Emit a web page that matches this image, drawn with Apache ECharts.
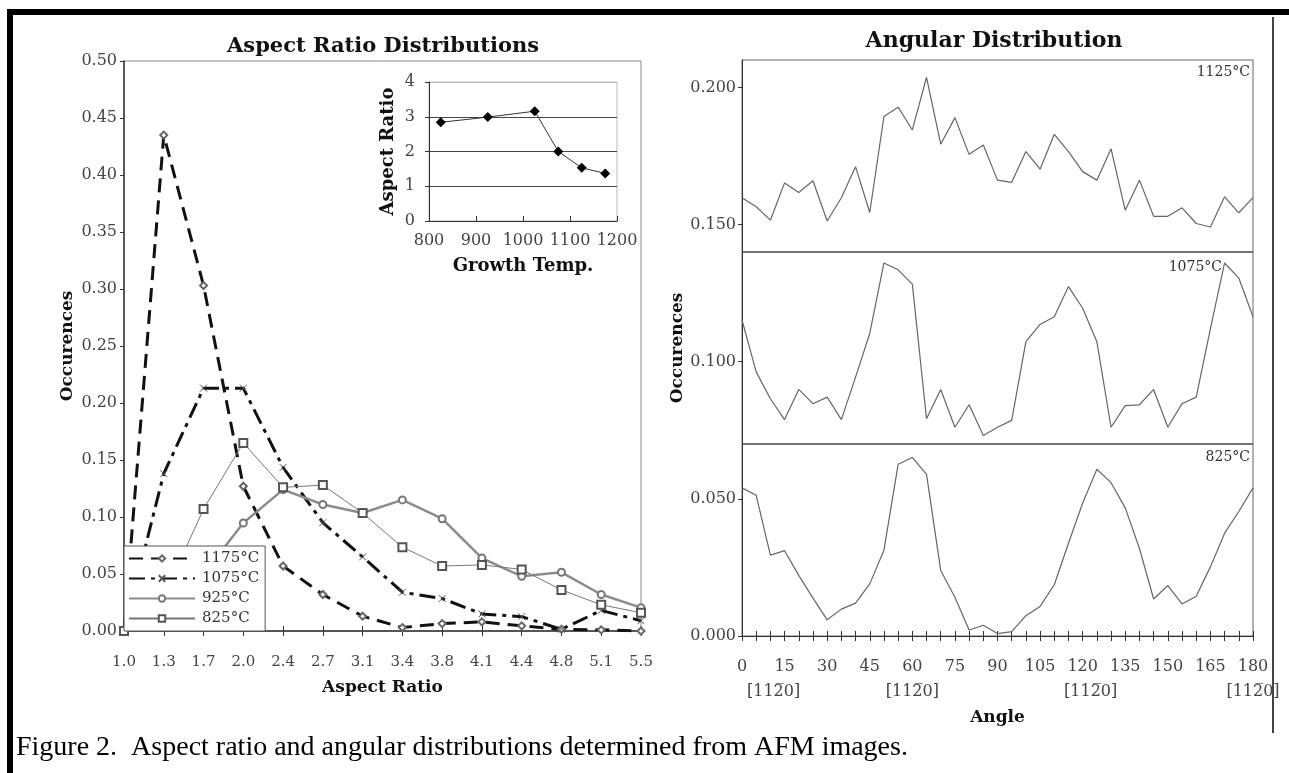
<!DOCTYPE html>
<html>
<head>
<meta charset="utf-8">
<title>Figure 2 - Aspect ratio and angular distributions</title>
<script src="https://cdn.jsdelivr.net/npm/echarts@6/dist/echarts.min.js"></script>
<style>
    html, body { margin: 0; padding: 0; background: #fff; }
    #chart { width: 1289px; height: 773px; }
</style>
</head>
<body>
<div id="chart"></div>
<script>
// left plot: aspect ratio bins and occurrence per growth temperature
let ratioBins = ['1.0', '1.3', '1.7', '2.0', '2.4', '2.7', '3.1', '3.4', '3.8', '4.1', '4.4', '4.8', '5.1', '5.5']
let occ1175 = [0, 0.435, 0.303, 0.127, 0.057, 0.032, 0.013, 0.003, 0.0065, 0.008, 0.0045, 0.0015, 0.001, 0]
let occ1075 = [0, 0.138, 0.213, 0.213, 0.1435, 0.095, 0.065, 0.034, 0.0285, 0.015, 0.0126, 0.0015, 0.018, 0.009]
let occ925 = [0, 0.01, 0.05, 0.0947, 0.124, 0.111, 0.1035, 0.115, 0.0985, 0.064, 0.048, 0.0515, 0.032, 0.0205]
let occ825 = [0, 0.03, 0.107, 0.165, 0.126, 0.128, 0.1035, 0.0735, 0.057, 0.058, 0.054, 0.036, 0.023, 0.016]
let legendNames = ['1175°C', '1075°C', '925°C', '825°C']

// inset: mean aspect ratio vs growth temperature
let growthTemps = [825, 925, 1025, 1075, 1125, 1175]
let meanRatio = [2.84, 2.99, 3.16, 2.0, 1.53, 1.37]

// right plot: angular distribution, one value every 5 degrees
let angles = [0, 5, 10, 15, 20, 25, 30, 35, 40, 45, 50, 55, 60, 65, 70, 75, 80, 85, 90,
    95, 100, 105, 110, 115, 120, 125, 130, 135, 140, 145, 150, 155, 160, 165, 170, 175, 180]
let ang1125 = [0.1598, 0.1565, 0.1516, 0.1652, 0.1617, 0.166, 0.1513, 0.1598, 0.1711, 0.1544,
    0.1894, 0.1928, 0.1845, 0.2037, 0.1793, 0.189, 0.1756, 0.179, 0.1662, 0.1654, 0.1766,
    0.1702, 0.1829, 0.1766, 0.1693, 0.1662, 0.1776, 0.1552, 0.1662, 0.153, 0.153, 0.1561,
    0.1504, 0.1491, 0.1601, 0.1543, 0.1598]
let ang1075 = [0.1152, 0.0963, 0.0865, 0.0789, 0.0899, 0.0847, 0.0871, 0.0789, 0.0944, 0.1103,
    0.136, 0.1335, 0.1283, 0.0792, 0.0899, 0.0761, 0.0843, 0.0731, 0.0761, 0.0786, 0.1073,
    0.1136, 0.1164, 0.1274, 0.1195, 0.1073, 0.0761, 0.084, 0.0843, 0.0899, 0.0761, 0.0847,
    0.0871, 0.1121, 0.136, 0.1305, 0.1164]
let ang825 = [0.054, 0.0513, 0.0295, 0.0311, 0.0221, 0.0138, 0.0059, 0.0098, 0.012, 0.019,
    0.0313, 0.0626, 0.0651, 0.0589, 0.0239, 0.0141, 0.0022, 0.0039, 0.0009, 0.0016, 0.0074,
    0.0108, 0.0187, 0.0338, 0.0485, 0.0608, 0.0559, 0.0467, 0.0319, 0.0135, 0.0184, 0.0117,
    0.0145, 0.0252, 0.0375, 0.0454, 0.054]
let panelDividers = [0.07, 0.14]
let directionTicks = [15, 60, 120, 180]  // ticks that get the [11-20] note
let directionText = '[112\u03050]'

let serif = 'DejaVu Serif'
let zip = (xs, ys) => xs.map((x, i) => [x, ys[i]])

let myChart = echarts.init(document.getElementById('chart'))

let tickLabel = { fontFamily: serif, fontSize: 16, color: '#444' }
let axisName = { fontFamily: serif, fontSize: 17, fontWeight: 'bold', color: '#111' }
let darkLine = { lineStyle: { color: '#333', width: 1 } }

// the [11-20] notes sit a little off their ticks in the original
let noteStyle = (padding) => ({ ...tickLabel, lineHeight: 25, padding: padding })

let option = {
    animation: false,
    textStyle: { fontFamily: serif },
    grid: [
        { left: 124, top: 61, width: 517, height: 570, show: true, borderColor: '#888', borderWidth: 1, outerBoundsMode: 'none' },
        { left: 429, top: 82, width: 188, height: 139, show: true, borderColor: '#bbb', borderWidth: 1, outerBoundsMode: 'none' },
        { left: 742, top: 60, width: 511, height: 576, show: true, borderColor: '#666', borderWidth: 1, outerBoundsMode: 'none' }
    ],
    legend: {
        data: legendNames,
        orient: 'vertical',
        left: 124,
        top: 546,
        itemWidth: 66,
        itemHeight: 8,
        itemGap: 3,
        padding: [4, 6, 4, 4],
        backgroundColor: '#fff',
        borderColor: '#555',
        borderWidth: 1,
        selectedMode: false,
        textStyle: { fontFamily: serif, fontSize: 15, color: '#333', lineHeight: 17, padding: [0, 0, 0, 2] }
    },
    xAxis: [
        {
            gridIndex: 0, type: 'category', data: ratioBins, boundaryGap: false,
            axisLine: { lineStyle: { color: '#333', width: 1.5 } },
            axisTick: { interval: 0, length: 5, lineStyle: { color: '#333' } },
            axisLabel: { ...tickLabel, fontSize: 15, interval: 0, margin: 24 },
            name: 'Aspect Ratio', nameLocation: 'middle', nameGap: 48, nameTextStyle: axisName
        },
        {
            // same axis again, only for the tick half above the line
            gridIndex: 0, type: 'category', data: ratioBins, boundaryGap: false, position: 'bottom',
            axisLine: { show: false },
            axisTick: { interval: 0, inside: true, length: 5, lineStyle: { color: '#333' } },
            axisLabel: { show: false }
        },
        {
            gridIndex: 1, type: 'value', min: 800, max: 1200, interval: 100,
            axisLine: darkLine,
            axisTick: { inside: true, length: 5, lineStyle: { color: '#333' } },
            axisLabel: { ...tickLabel, margin: 12, formatter: (v) => String(v) },
            splitLine: { show: false },
            name: 'Growth Temp.', nameLocation: 'middle', nameGap: 36, nameTextStyle: { ...axisName, fontSize: 18 }
        },
        {
            gridIndex: 2, type: 'value', min: 0, max: 180, interval: 15,
            axisLine: darkLine,
            axisTick: { length: 5, lineStyle: { color: '#333' } },
            minorTick: { show: true, splitNumber: 3, length: 5, lineStyle: { color: '#333' } },
            splitLine: { show: false },
            axisLabel: {
                ...tickLabel, margin: 18, lineHeight: 25,
                formatter: (v) => {
                    let k = directionTicks.indexOf(v)
                    return k < 0 ? String(v) : v + '\n{d' + k + '|' + directionText + '}'
                },
                rich: {
                    d0: noteStyle([0, 22, 0, 0]),
                    d1: noteStyle([0, 0, 0, 0]),
                    d2: noteStyle([0, 0, 0, 16]),
                    d3: noteStyle([0, 0, 0, 0])
                }
            },
            name: 'Angle', nameLocation: 'middle', nameGap: 72, nameTextStyle: axisName
        },
        {
            gridIndex: 2, type: 'value', min: 0, max: 180, interval: 15, position: 'bottom',
            axisLine: { show: false },
            axisTick: { inside: true, length: 5, lineStyle: { color: '#333' } },
            minorTick: { show: true, splitNumber: 3, length: 5, lineStyle: { color: '#333' } },
            splitLine: { show: false },
            axisLabel: { show: false }
        }
    ],
    yAxis: [
        {
            gridIndex: 0, type: 'value', min: 0, max: 0.5, interval: 0.05,
            axisLine: { show: true, lineStyle: { color: '#333', width: 1.5 } },
            axisTick: { show: true, length: 4, lineStyle: { color: '#333' } },
            axisLabel: { ...tickLabel, margin: 7, formatter: (v) => v.toFixed(2) },
            splitLine: { show: false },
            name: 'Occurences', nameLocation: 'middle', nameGap: 48, nameTextStyle: axisName
        },
        {
            gridIndex: 1, type: 'value', min: 0, max: 4, interval: 1,
            axisLine: { show: true, lineStyle: { color: '#333' } },
            axisTick: { show: true, length: 4, lineStyle: { color: '#333' } },
            axisLabel: { ...tickLabel, margin: 14 },
            splitLine: { show: true, lineStyle: { color: ['#444', '#444', '#444', '#444', '#bbb'] } },
            name: 'Aspect Ratio', nameLocation: 'middle', nameGap: 32, nameTextStyle: { ...axisName, fontSize: 18 }
        },
        {
            gridIndex: 2, type: 'value', min: 0, max: 0.21, interval: 0.05,
            axisLine: { show: true, lineStyle: { color: '#333' } },
            axisTick: { show: true, length: 4, lineStyle: { color: '#333' } },
            axisLabel: { ...tickLabel, margin: 6, showMaxLabel: false, formatter: (v) => v.toFixed(3) },
            splitLine: { show: false },
            name: 'Occurences', nameLocation: 'middle', nameGap: 56, nameTextStyle: axisName
        }
    ],
    series: [
        {
            name: '1175°C', type: 'line', xAxisIndex: 0, yAxisIndex: 0, data: occ1175,
            symbol: 'emptyDiamond', symbolSize: 7,
            itemStyle: { color: '#666', borderWidth: 1 },
            lineStyle: { color: '#111', width: 3, type: [14, 8] }
        },
        {
            name: '1075°C', type: 'line', xAxisIndex: 0, yAxisIndex: 0, data: occ1075,
            symbol: 'path://M0,0L10,10M10,0L0,10', symbolSize: 7,
            itemStyle: { color: '#555', borderColor: '#555', borderWidth: 1 },
            lineStyle: { color: '#111', width: 3, type: [16, 6, 4, 6] }
        },
        {
            name: '925°C', type: 'line', xAxisIndex: 0, yAxisIndex: 0, data: occ925,
            symbol: 'emptyCircle', symbolSize: 7,
            itemStyle: { color: '#777', borderWidth: 1 },
            lineStyle: { color: '#8c8c8c', width: 2.5 }
        },
        {
            name: '825°C', type: 'line', xAxisIndex: 0, yAxisIndex: 0, data: occ825,
            symbol: 'emptyRect', symbolSize: 8,
            itemStyle: { color: '#555', borderWidth: 1 },
            lineStyle: { color: '#777', width: 1 }
        },
        {
            name: 'Aspect ratio vs growth temperature', type: 'line', xAxisIndex: 2, yAxisIndex: 1,
            data: zip(growthTemps, meanRatio),
            symbol: 'diamond', symbolSize: 10,
            itemStyle: { color: '#000' },
            lineStyle: { color: '#333', width: 1 }
        },
        {
            name: 'Angular 1125°C', type: 'line', xAxisIndex: 3, yAxisIndex: 2,
            data: zip(angles, ang1125), symbol: 'none',
            lineStyle: { color: '#666', width: 1.2 },
            markLine: {
                silent: true, symbol: ['none', 'none'], label: { show: false },
                lineStyle: { color: '#444', width: 1.5, type: 'solid' },
                data: panelDividers.map((v) => ({ yAxis: v }))
            }
        },
        {
            name: 'Angular 1075°C', type: 'line', xAxisIndex: 3, yAxisIndex: 2,
            data: zip(angles, ang1075), symbol: 'none',
            lineStyle: { color: '#666', width: 1.2 }
        },
        {
            name: 'Angular 825°C', type: 'line', xAxisIndex: 3, yAxisIndex: 2,
            data: zip(angles, ang825), symbol: 'none',
            lineStyle: { color: '#666', width: 1.2 }
        }
    ],
    graphic: [
        // black frame of the figure
        { type: 'rect', silent: true, shape: { x: 7, y: 9, width: 1282, height: 6 }, style: { fill: '#000' } },
        { type: 'rect', silent: true, shape: { x: 7, y: 9, width: 6, height: 764 }, style: { fill: '#000' } },
        { type: 'line', silent: true, shape: { x1: 1273, y1: 17, x2: 1273, y2: 733 }, style: { stroke: '#444', lineWidth: 2 } },
        {
            type: 'text', silent: true, x: 383, y: 47,
            style: { text: 'Aspect Ratio Distributions', font: 'bold 21px "DejaVu Serif"', fill: '#111',
                textAlign: 'center', textVerticalAlign: 'middle', align: 'center', verticalAlign: 'middle' }
        },
        {
            type: 'text', silent: true, x: 994, y: 41,
            style: { text: 'Angular Distribution', font: 'bold 22px "DejaVu Serif"', fill: '#111',
                textAlign: 'center', textVerticalAlign: 'middle', align: 'center', verticalAlign: 'middle' }
        },
        {
            type: 'text', silent: true, x: 1250, y: 72,
            style: { text: '1125°C', font: '14px "DejaVu Serif"', fill: '#333',
                textAlign: 'right', textVerticalAlign: 'middle', align: 'right', verticalAlign: 'middle' }
        },
        {
            type: 'text', silent: true, x: 1222, y: 267,
            style: { text: '1075°C', font: '14px "DejaVu Serif"', fill: '#333',
                textAlign: 'right', textVerticalAlign: 'middle', align: 'right', verticalAlign: 'middle' }
        },
        {
            type: 'text', silent: true, x: 1250, y: 457,
            style: { text: '825°C', font: '14px "DejaVu Serif"', fill: '#333',
                textAlign: 'right', textVerticalAlign: 'middle', align: 'right', verticalAlign: 'middle' }
        },
        {
            type: 'text', silent: true, x: 16, y: 748,
            style: { text: 'Figure 2.  Aspect ratio and angular distributions determined from AFM images.',
                font: '28px "Liberation Serif"', fill: '#000',
                textAlign: 'left', textVerticalAlign: 'middle', align: 'left', verticalAlign: 'middle' }
        }
    ]
}

myChart.setOption(option)
</script>
</body>
</html>
